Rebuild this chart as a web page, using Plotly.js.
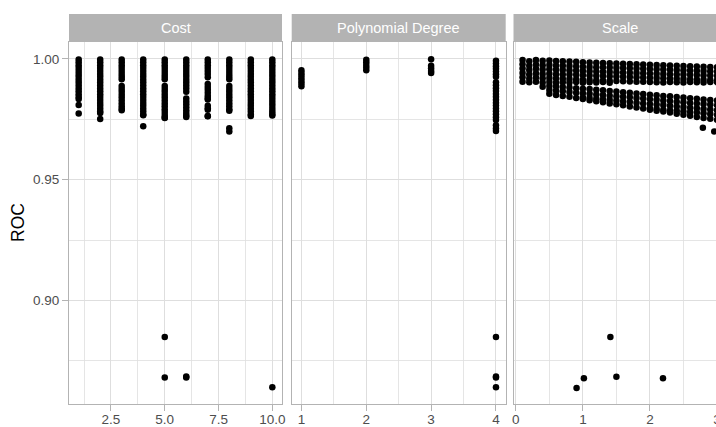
<!DOCTYPE html>
<html>
<head>
<meta charset="utf-8">
<script src="https://cdn.plot.ly/plotly-3.0.1.min.js"></script>
<style>
html,body{margin:0;padding:0;overflow:hidden;background:#fff;}
#chart{width:733px;height:427px;}
</style>
</head>
<body>
<div id="chart"></div>
<script>
// ---------- data ----------
const panelTitles = ["Cost", "Polynomial Degree", "Scale"];

const costX = [1, 2, 3, 4, 5, 6, 7, 8, 9, 10];
const costRoc = [
  [0.9998,0.9986,0.9974,0.9962,0.9950,0.9938,0.9926,0.9914,0.9902,0.9890,0.9878,0.9866,0.9854,0.9842,0.9834,0.9809,0.9774],
  [0.9998,0.9986,0.9974,0.9962,0.9950,0.9938,0.9926,0.9914,0.9902,0.9890,0.9878,0.9866,0.9854,0.9842,0.9830,0.9818,0.9806,0.9794,0.9782,0.9776,0.9751],
  [0.9998,0.9986,0.9974,0.9962,0.9950,0.9938,0.9926,0.9916,0.9888,0.9876,0.9864,0.9852,0.9840,0.9828,0.9816,0.9804,0.9794,0.9788],
  [0.9998,0.9986,0.9974,0.9962,0.9950,0.9938,0.9926,0.9914,0.9902,0.9890,0.9878,0.9866,0.9854,0.9842,0.9830,0.9818,0.9806,0.9794,0.9782,0.9770,0.9767,0.9721],
  [0.9998,0.9986,0.9974,0.9962,0.9950,0.9938,0.9926,0.9916,0.9888,0.9876,0.9864,0.9852,0.9840,0.9828,0.9816,0.9804,0.9792,0.9780,0.9768,0.9758,0.9755,0.8849,0.8682],
  [0.9998,0.9986,0.9974,0.9962,0.9950,0.9938,0.9926,0.9914,0.9902,0.9890,0.9878,0.9864,0.9836,0.9824,0.9812,0.9800,0.9788,0.9776,0.9766,0.9760,0.8686,0.8682],
  [0.9998,0.9986,0.9974,0.9962,0.9950,0.9938,0.9924,0.9896,0.9884,0.9872,0.9860,0.9848,0.9838,0.9832,0.9806,0.9796,0.9790,0.9764,0.9763],
  [0.9998,0.9986,0.9974,0.9962,0.9950,0.9938,0.9926,0.9916,0.9888,0.9876,0.9864,0.9852,0.9840,0.9828,0.9816,0.9804,0.9792,0.9785,0.9713,0.9700],
  [0.9998,0.9986,0.9974,0.9962,0.9950,0.9938,0.9926,0.9914,0.9902,0.9890,0.9878,0.9866,0.9854,0.9842,0.9830,0.9818,0.9806,0.9794,0.9782,0.9770,0.9764],
  [0.9998,0.9986,0.9974,0.9962,0.9950,0.9938,0.9926,0.9914,0.9902,0.9890,0.9878,0.9866,0.9854,0.9842,0.9830,0.9818,0.9806,0.9794,0.9782,0.9772,0.9766,0.8641]
];
const costTickVals = [2.5, 5.0, 7.5, 10.0];
const costTickText = ["2.5", "5.0", "7.5", "10.0"];

const degX = [1, 2, 3, 4];
const degRoc = [
  [0.9953,0.9942,0.9931,0.9920,0.9909,0.9898,0.9887],
  [0.9997,0.9986,0.9975,0.9964,0.9953],
  [0.9999,0.9972,0.9961,0.9950,0.9942],
  [0.9992,0.9981,0.9970,0.9959,0.9948,0.9937,0.9926,0.9903,0.9891,0.9879,0.9867,0.9855,0.9843,0.9831,0.9819,0.9807,0.9795,0.9783,0.9771,0.9759,0.9747,0.9725,0.9712,0.9702,0.8849,0.8686,0.8682,0.8641]
];
const degTickVals = [1, 2, 3, 4];
const degTickText = ["1", "2", "3", "4"];

const scaleX = [0.1,0.2,0.3,0.4,0.5,0.6,0.7,0.8,0.9,1.0,1.1,1.2,1.3,1.4,1.5,1.6,1.7,1.8,1.9,2.0,2.1,2.2,2.3,2.4,2.5,2.6,2.7,2.8,2.9,3.0,3.1];
const scaleUpper = [
  [0.9996,0.9978,0.9960,0.9942,0.9924,0.9906],
  [0.9990,0.9972,0.9954,0.9936,0.9918,0.9903],
  [0.9995,0.9977,0.9959,0.9941,0.9923,0.9905],
  [0.9992,0.9974,0.9956,0.9938,0.9920,0.9902],
  [0.9993,0.9975,0.9957,0.9939,0.9921,0.9904],
  [0.9991,0.9973,0.9955,0.9937,0.9919,0.9901],
  [0.9990,0.9972,0.9954,0.9936,0.9918,0.9903],
  [0.9989,0.9971,0.9953,0.9935,0.9917,0.9902],
  [0.9988,0.9970,0.9952,0.9934,0.9916,0.9904],
  [0.9986,0.9968,0.9950,0.9932,0.9914,0.9901],
  [0.9985,0.9967,0.9949,0.9931,0.9913,0.9903],
  [0.9984,0.9966,0.9948,0.9930,0.9912,0.9902],
  [0.9983,0.9965,0.9947,0.9929,0.9911,0.9904],
  [0.9982,0.9964,0.9946,0.9928,0.9910,0.9901],
  [0.9981,0.9963,0.9945,0.9927,0.9909],
  [0.9980,0.9962,0.9944,0.9926,0.9908],
  [0.9979,0.9961,0.9943,0.9925,0.9907],
  [0.9978,0.9960,0.9942,0.9924,0.9906],
  [0.9977,0.9959,0.9941,0.9923,0.9905],
  [0.9976,0.9958,0.9940,0.9922,0.9904],
  [0.9975,0.9957,0.9939,0.9921,0.9903],
  [0.9974,0.9956,0.9938,0.9920,0.9902],
  [0.9973,0.9955,0.9937,0.9919,0.9904],
  [0.9972,0.9954,0.9936,0.9918,0.9903],
  [0.9971,0.9953,0.9935,0.9917,0.9902],
  [0.9970,0.9952,0.9934,0.9916,0.9904],
  [0.9969,0.9951,0.9933,0.9915,0.9903],
  [0.9968,0.9950,0.9932,0.9914,0.9902],
  [0.9967,0.9949,0.9931,0.9913,0.9904],
  [0.9966,0.9948,0.9930,0.9912,0.9903],
  [0.9965,0.9947,0.9929,0.9911,0.9902]
];
const scaleLower = [
  [], [], [],
  [0.9885],
  [0.9888,0.9871,0.9856],
  [0.9886,0.9868,0.9851],
  [0.9884,0.9866,0.9847],
  [0.9882,0.9863,0.9843],
  [0.9879,0.9860,0.9838],
  [0.9877,0.9858,0.9840,0.9834],
  [0.9875,0.9856,0.9838,0.9829],
  [0.9872,0.9853,0.9835,0.9825],
  [0.9870,0.9851,0.9833,0.9821],
  [0.9867,0.9848,0.9830,0.9816],
  [0.9865,0.9846,0.9828,0.9812],
  [0.9862,0.9843,0.9825,0.9808],
  [0.9860,0.9841,0.9822,0.9803],
  [0.9857,0.9838,0.9819,0.9799],
  [0.9855,0.9836,0.9816,0.9795],
  [0.9852,0.9833,0.9813,0.9796,0.9790],
  [0.9850,0.9831,0.9811,0.9793,0.9786],
  [0.9847,0.9828,0.9809,0.9790,0.9782],
  [0.9845,0.9826,0.9806,0.9788,0.9778],
  [0.9842,0.9823,0.9803,0.9785,0.9773],
  [0.9840,0.9821,0.9801,0.9783,0.9769],
  [0.9837,0.9818,0.9798,0.9780,0.9765],
  [0.9835,0.9816,0.9796,0.9778,0.9760],
  [0.9832,0.9813,0.9793,0.9775,0.9756],
  [0.9830,0.9811,0.9791,0.9772,0.9752],
  [0.9828,0.9808,0.9788,0.9769,0.9748],
  [0.9825,0.9806,0.9786,0.9766,0.9744]
];
const scaleOutX = [0.906, 1.015, 1.41, 1.50, 2.195, 2.79, 2.96];
const scaleOutY = [0.8638, 0.8679, 0.8849, 0.8685, 0.8679, 0.9715, 0.9700];
const scaleTickVals = [0, 1, 2, 3];
const scaleTickText = ["0", "1", "2", "3"];

const rocTickVals = [0.90, 0.95, 1.00];
const rocTickText = ["0.90", "0.95", "1.00"];

// ---------- build traces ----------
function flatten(xs, cols) {
  const x = [], y = [];
  xs.forEach((xv, i) => cols[i].forEach(v => { x.push(xv); y.push(v); }));
  return {x, y};
}
const cost = flatten(costX, costRoc);
const deg = flatten(degX, degRoc);
const scU = flatten(scaleX, scaleUpper);
const scL = flatten(scaleX, scaleLower);
const scaleAllX = scU.x.concat(scL.x, scaleOutX);
const scaleAllY = scU.y.concat(scL.y, scaleOutY);

const mk = {color: "#000000", size: 6.5, line: {width: 0}, opacity: 1};
const traces = [
  {type: "scatter", mode: "markers", x: cost.x, y: cost.y, xaxis: "x", yaxis: "y", marker: mk, hoverinfo: "x+y"},
  {type: "scatter", mode: "markers", x: deg.x, y: deg.y, xaxis: "x2", yaxis: "y2", marker: mk, hoverinfo: "x+y"},
  {type: "scatter", mode: "markers", x: scaleAllX, y: scaleAllY, xaxis: "x3", yaxis: "y3", marker: mk, hoverinfo: "x+y"}
];

// ---------- layout ----------
const FONT = "Liberation Sans, Arial, Helvetica, sans-serif";
const tickFont = {family: FONT, size: 13.5, color: "#4d4d4d"};
const gridC = "#dedede";
const borderC = "#b3b3b3";

function xAx(domain, range, tv, tt, minorVals) {
  return {
    domain, range, tickmode: "array", tickvals: tv, ticktext: tt,
    showgrid: true, gridcolor: gridC, gridwidth: 1,
    minor: {tickmode: "array", tickvals: minorVals, showgrid: true, gridcolor: gridC, gridwidth: 0.8, ticks: ""},
    showline: true, mirror: true, linecolor: borderC, linewidth: 1,
    ticks: "outside", ticklen: 6, tickwidth: 1, tickcolor: borderC, ticklabelstandoff: -3,
    tickfont: tickFont, zeroline: false, fixedrange: true
  };
}
function yAx(anchor, showLabels) {
  return {
    anchor, domain: [0, 1], range: [0.8572, 1.0070],
    tickmode: "array", tickvals: rocTickVals, ticktext: rocTickText,
    showgrid: true, gridcolor: gridC, gridwidth: 1,
    minor: {tickmode: "array", tickvals: [0.875, 0.925, 0.975], showgrid: true, gridcolor: gridC, gridwidth: 0.8, ticks: ""},
    showline: true, mirror: true, linecolor: borderC, linewidth: 1,
    ticks: showLabels ? "outside" : "", ticklen: 6, tickwidth: 1, tickcolor: borderC, ticklabelstandoff: 0,
    showticklabels: showLabels, tickfont: tickFont, zeroline: false, fixedrange: true
  };
}

const W = 733, ML = 69, MR = 6, PW = W - ML - MR;
const d1 = [0, 213 / PW];
const d2 = [(291.7 - ML) / PW, (505.7 - ML) / PW];
const d3 = [(513.5 - ML) / PW, 1];
const PH = 427 - 42 - 23;
const stripTop = 1 + 28 / PH;

const layout = {
  width: W, height: 427,
  margin: {l: ML, r: MR, t: 42, b: 23, pad: 0},
  paper_bgcolor: "#ffffff", plot_bgcolor: "#ffffff",
  showlegend: false,
  font: {family: FONT, color: "#000000"},
  xaxis: Object.assign(xAx(d1, [0.55, 10.45], costTickVals, costTickText, [1.25, 3.75, 6.25, 8.75]), {anchor: "y"}),
  xaxis2: Object.assign(xAx(d2, [0.85, 4.15], degTickVals, degTickText, [1.5, 2.5, 3.5]), {anchor: "y2"}),
  xaxis3: Object.assign(xAx(d3, [-0.035, 3.15], scaleTickVals, scaleTickText, [0.5, 1.5, 2.5]), {anchor: "y3"}),
  yaxis: yAx("x", true),
  yaxis2: Object.assign(yAx("x2", false), {matches: "y"}),
  yaxis3: Object.assign(yAx("x3", false), {matches: "y"}),
  shapes: ["x", "x2", "x3"].map(ax => ({
    type: "rect", xref: ax + " domain", yref: "paper",
    x0: 0, x1: 1, y0: 1.002, y1: stripTop,
    fillcolor: "#b3b3b3", line: {width: 0}, layer: "above"
  })),
  annotations: ["x", "x2", "x3"].map((ax, i) => ({
    xref: ax + " domain", yref: "paper", x: 0.5, y: (1 + stripTop) / 2,
    xanchor: "center", yanchor: "middle", showarrow: false,
    text: panelTitles[i], font: {family: FONT, size: 14.5, color: "#ffffff"}
  })).concat([{
    xref: "paper", yref: "paper", x: 0, y: 0.5, xshift: -51,
    xanchor: "center", yanchor: "middle", showarrow: false, textangle: -90,
    text: "ROC", font: {family: FONT, size: 17.5, color: "#000000"}
  }])
};

Plotly.newPlot("chart", traces, layout, {displayModeBar: false, staticPlot: true});
</script>
</body>
</html>
